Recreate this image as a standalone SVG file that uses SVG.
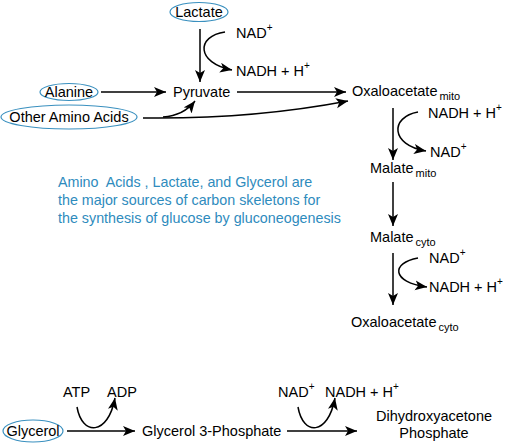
<svg xmlns="http://www.w3.org/2000/svg" width="506" height="445" viewBox="0 0 506 445">
<defs>
<marker id="ah" markerUnits="userSpaceOnUse" markerWidth="13" markerHeight="11" refX="12" refY="5" orient="auto">
<path d="M0,0 L12,5 L0,10 L3,5 z" fill="#000"/>
</marker>
<style>
text{font-family:"Liberation Sans",Arial,sans-serif;font-size:14.5px;fill:#000}
.sub{font-size:11px}
.sup{font-size:10px}
.blue{fill:#2e8bbd;font-size:14.3px;white-space:pre}
.oval{fill:none;stroke:#3a90bf;stroke-width:1.2}
.ln{fill:none;stroke:#000;stroke-width:1.5;marker-end:url(#ah)}
</style>
</defs>
<rect width="506" height="445" fill="#fff"/>

<g id="lactate"><ellipse class="oval" cx="199" cy="12" rx="29" ry="9.5"/><text x="199" y="17" text-anchor="middle">Lactate</text></g>
<g id="nad1"><text x="236" y="38">NAD<tspan class="sup" dy="-7">+</tspan></text></g>
<g id="nadh1"><text x="236" y="76">NADH + H<tspan class="sup" dy="-7">+</tspan></text></g>
<g id="alanine"><ellipse class="oval" cx="69" cy="92" rx="29" ry="8.5"/><text x="69" y="97" text-anchor="middle">Alanine</text></g>
<g id="other"><ellipse class="oval" cx="69" cy="117" rx="68" ry="12"/><text x="69" y="122" text-anchor="middle">Other Amino Acids</text></g>
<g id="pyruvate"><text x="173" y="97">Pyruvate</text></g>
<g id="oaa_mito"><text x="352" y="96">Oxaloacetate<tspan class="sub" dx="2" dy="4">mito</tspan></text></g>
<g id="nadh2"><text x="428" y="118">NADH + H<tspan class="sup" dy="-7">+</tspan></text></g>
<g id="nad2"><text x="430" y="157">NAD<tspan class="sup" dy="-7">+</tspan></text></g>
<g id="malate_mito"><text x="370" y="173">Malate<tspan class="sub" dx="2" dy="4">mito</tspan></text></g>
<g id="malate_cyto"><text x="370" y="242">Malate<tspan class="sub" dx="2" dy="4">cyto</tspan></text></g>
<g id="nad3"><text x="429" y="263">NAD<tspan class="sup" dy="-7">+</tspan></text></g>
<g id="nadh3"><text x="429" y="292">NADH + H<tspan class="sup" dy="-7">+</tspan></text></g>
<g id="oaa_cyto"><text x="351" y="327">Oxaloacetate<tspan class="sub" dx="2" dy="4">cyto</tspan></text></g>

<g id="note">
<text class="blue" x="58" y="187">Amino  Acids , Lactate, and Glycerol are</text>
<text class="blue" x="58" y="205">the major sources of carbon skeletons for</text>
<text class="blue" x="58" y="223">the synthesis of glucose by gluconeogenesis</text>
</g>

<g id="glycerol"><ellipse class="oval" cx="33" cy="431" rx="30" ry="11"/><text x="33" y="436" text-anchor="middle">Glycerol</text></g>
<g id="atp"><text x="63" y="397">ATP</text></g>
<g id="adp"><text x="107" y="397">ADP</text></g>
<g id="g3p"><text x="142" y="436">Glycerol 3-Phosphate</text></g>
<g id="nad4"><text x="278" y="397">NAD<tspan class="sup" dy="-7">+</tspan></text></g>
<g id="nadh4"><text x="325" y="397">NADH + H<tspan class="sup" dy="-7">+</tspan></text></g>
<g id="dhap"><text x="434" y="421" text-anchor="middle">Dihydroxyacetone</text><text x="434" y="438" text-anchor="middle">Phosphate</text></g>

<g id="connectors">
<path class="ln" d="M200,29 L200,82"/>
<path class="ln" d="M225,32 C196,36 196,63 232,70"/>
<path class="ln" d="M101,92 L166,92"/>
<path class="ln" d="M237,92 L346,92"/>
<path class="ln" d="M143,118 C220,119 290,112 348,101"/>
<path class="ln" d="M163,117 C178,116 188,110 195,101"/>
<path class="ln" d="M393,108 L393,160"/>
<path class="ln" d="M418,112 C390,117 390,145 426,151"/>
<path class="ln" d="M393,182 L393,226"/>
<path class="ln" d="M393,253 L393,305"/>
<path class="ln" d="M418,258 C391,263 391,282 427,287"/>
<path class="ln" d="M67,431 L135,431"/>
<path class="ln" d="M77,407 C82,436 108,436 115,398"/>
<path class="ln" d="M287,431 L357,431"/>
<path class="ln" d="M298,407 C303,436 328,436 335,398"/>
</g>
</svg>
